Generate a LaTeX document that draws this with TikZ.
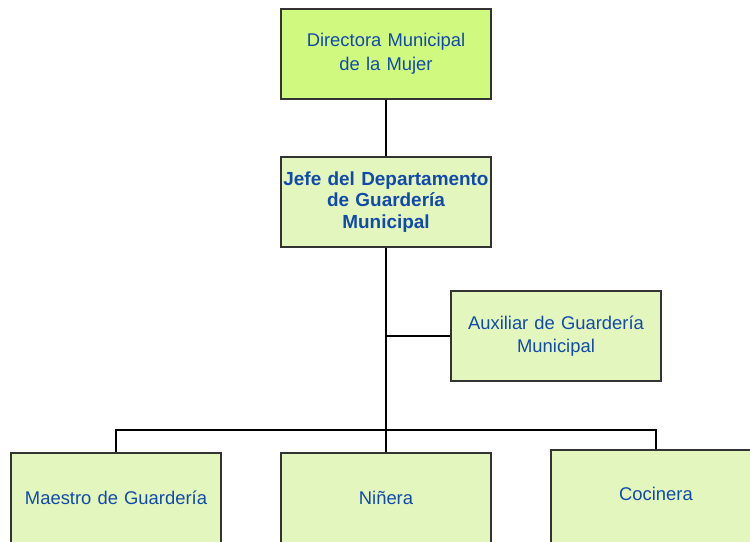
\documentclass[tikz,border=0pt]{standalone}
\usepackage{fontspec}
\setmainfont{Liberation Sans}
\definecolor{dirgreen}{RGB}{208,249,128}
\definecolor{postgreen}{RGB}{227,246,190}
\definecolor{postblue}{RGB}{18,74,168}

\begin{document}
\begin{tikzpicture}[x=0.75pt,y=-0.75pt,
 post/.style={draw=black!80,line width=0.8pt,fill=postgreen,minimum width=157.5pt,minimum height=67.5pt,text width=157pt,align=center,inner sep=0pt,text=postblue,font=\fontsize{13.8}{17.5}\selectfont},
 chief/.style={post,font=\fontsize{14.2}{16.2}\selectfont\bfseries},
 link/.style={line width=0.9pt}]
 \useasboundingbox (0,0) rectangle (750,542);
 \node[post,fill=dirgreen,font=\fontsize{13.8}{18}\selectfont] (dir) at (386,54) {Directora Municipal\\de la Mujer};
 \node[chief] (jefe) at (386,202) {Jefe del Departamento\\de Guarder\'ia\\Municipal};
 \node[post] (aux) at (556,336) {Auxiliar de Guarder\'ia\\Municipal};
 \node[post] (maestro) at (116,498) {Maestro de Guarder\'ia};
 \node[post] (ninera) at (386,498) {Ni\~nera};
 \node[post,minimum height=72pt,text depth=6pt] (cocina) at (656,498) {Cocinera};
 \coordinate (bus) at (386,430);
 \draw[link] (dir) -- (jefe) (jefe) -- (bus);
 \draw[link] (aux.west) -- (aux.west -| jefe.south);
 \draw[link] (maestro.north) |- (bus) -| (cocina.north) (ninera.north) -- (bus);
\end{tikzpicture}
\end{document}
